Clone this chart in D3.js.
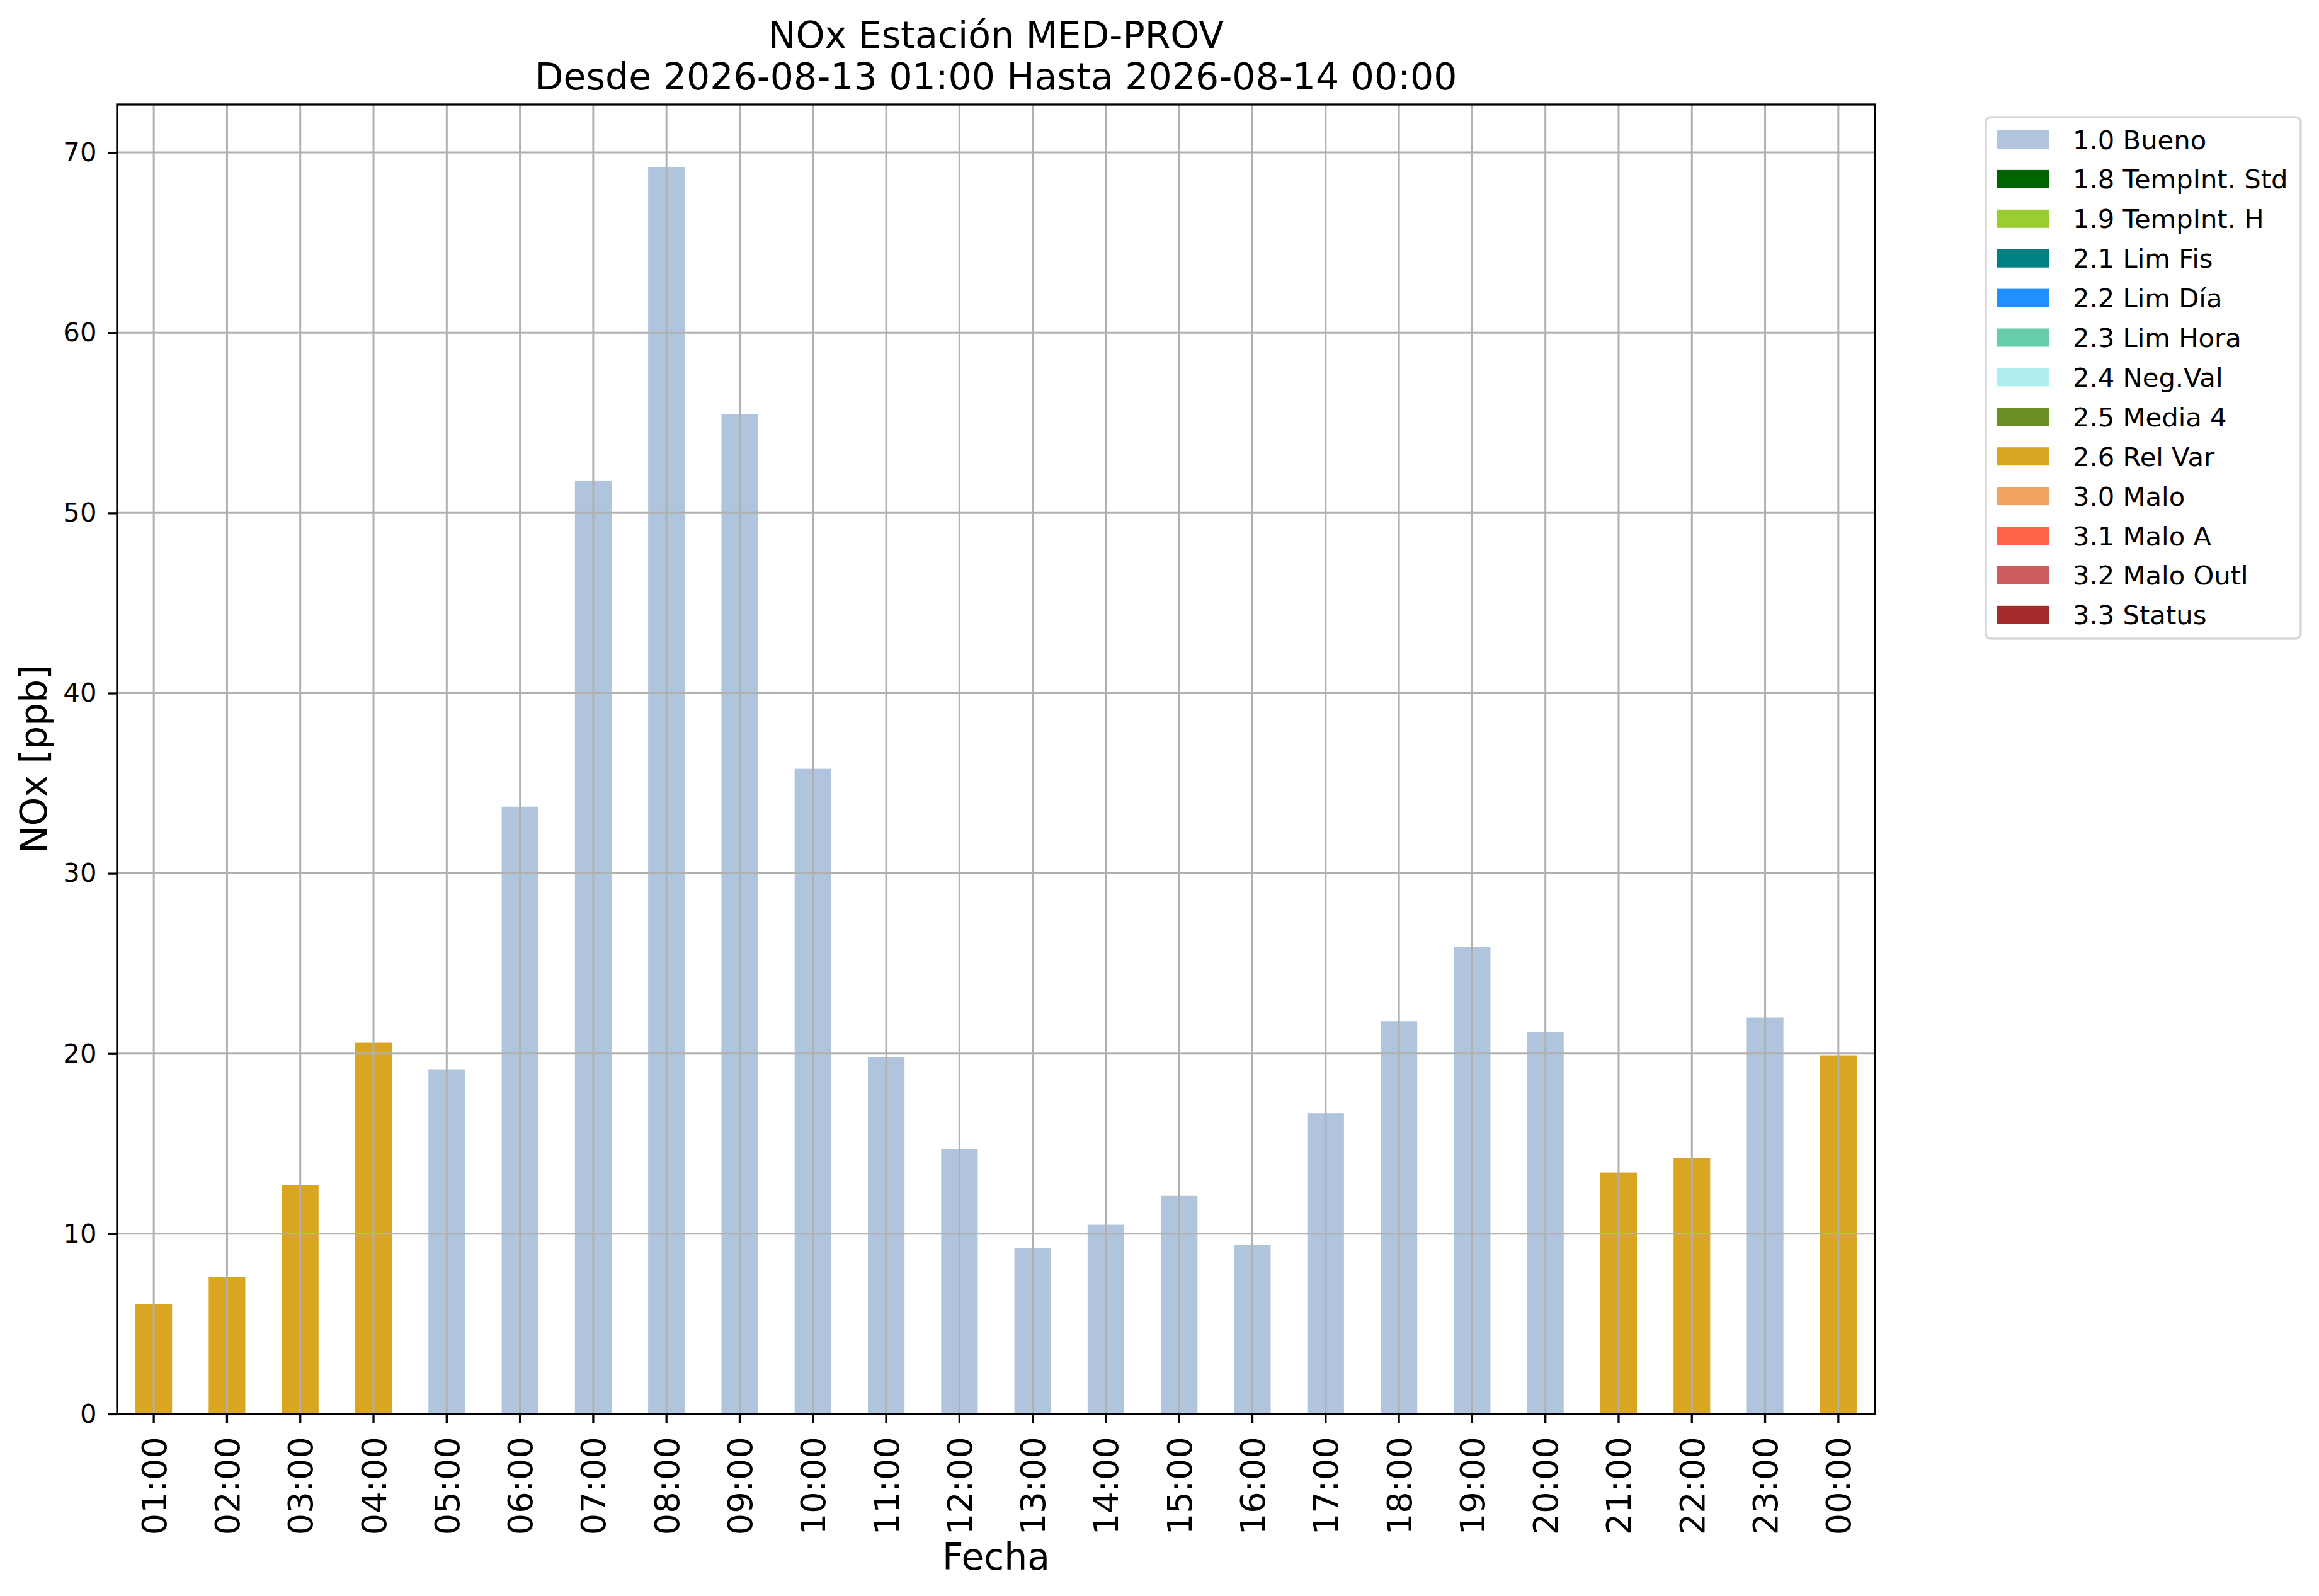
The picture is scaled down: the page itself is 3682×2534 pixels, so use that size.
<!DOCTYPE html>
<html>

<head>
    <meta charset="utf-8">
    <title>NOx Estación MED-PROV</title>
    <script src="https://d3js.org/d3.v7.min.js" charset="utf-8"></script>
    <style>
        body { margin: 0; background: #ffffff; }
        text { font-family: "DejaVu Sans", sans-serif; }
    </style>
</head>

<body>
    <script>
        // data
        var hours = ["01:00", "02:00", "03:00", "04:00", "05:00", "06:00", "07:00", "08:00",
            "09:00", "10:00", "11:00", "12:00", "13:00", "14:00", "15:00", "16:00",
            "17:00", "18:00", "19:00", "20:00", "21:00", "22:00", "23:00", "00:00"];
        var nox = [6.1, 7.6, 12.7, 20.6, 19.1, 33.7, 51.8, 69.2,
            55.5, 35.8, 19.8, 14.7, 9.2, 10.5, 12.1, 9.4,
            16.7, 21.8, 25.9, 21.2, 13.4, 14.2, 22.0, 19.9];
        var flags = ["2.6 Rel Var", "2.6 Rel Var", "2.6 Rel Var", "2.6 Rel Var",
            "1.0 Bueno", "1.0 Bueno", "1.0 Bueno", "1.0 Bueno",
            "1.0 Bueno", "1.0 Bueno", "1.0 Bueno", "1.0 Bueno",
            "1.0 Bueno", "1.0 Bueno", "1.0 Bueno", "1.0 Bueno",
            "1.0 Bueno", "1.0 Bueno", "1.0 Bueno", "1.0 Bueno",
            "2.6 Rel Var", "2.6 Rel Var", "1.0 Bueno", "2.6 Rel Var"];

        var legendLabels = ["1.0 Bueno", "1.8 TempInt. Std", "1.9 TempInt. H", "2.1 Lim Fis",
            "2.2 Lim Día", "2.3 Lim Hora", "2.4 Neg.Val", "2.5 Media 4", "2.6 Rel Var",
            "3.0 Malo", "3.1 Malo A", "3.2 Malo Outl", "3.3 Status"];
        var legendColors = ["#b0c4de", "#006400", "#9acd32", "#008080",
            "#1e90ff", "#66cdaa", "#afeeee", "#6b8e23", "#daa520",
            "#f4a460", "#ff6347", "#cd5c5c", "#a52a2a"];

        var yTicks = [0, 10, 20, 30, 40, 50, 60, 70];

        var titleLines = ["NOx Estación MED-PROV", "Desde 2026-08-13 01:00 Hasta 2026-08-14 00:00"];

        // layout
        var width = 3682, height = 2534;
        var plot = { left: 186, right: 2977, top: 166, bottom: 2245 };
        var cx = (plot.left + plot.right) / 2;
        var small = 41.7, mid = 54.2, big = 58.3;

        var dataset = hours.map(function (h, i) {
            return { hour: h, value: nox[i], flag: flags[i] };
        });

        var color = d3.scaleOrdinal().domain(legendLabels).range(legendColors);

        var x = d3.scaleBand()
            .domain(hours)
            .range([plot.left, plot.right])
            .paddingInner(0.5)
            .paddingOuter(0.25);

        var y = d3.scaleLinear()
            .domain([0, d3.max(nox) * 1.05])
            .range([plot.bottom, plot.top]);

        var svg = d3.select("body").append("svg")
            .attr("width", width)
            .attr("height", height);

        // bars
        svg.append("g")
            .selectAll("rect")
            .data(dataset)
            .enter()
            .append("rect")
            .attr("x", function (d) { return x(d.hour); })
            .attr("width", x.bandwidth())
            .attr("y", function (d) { return y(d.value); })
            .attr("height", function (d) { return y(0) - y(d.value); })
            .attr("fill", function (d) { return color(d.flag); });

        // grid, drawn over the bars
        var grid = svg.append("g").attr("stroke", "#b0b0b0").attr("stroke-width", 3);
        grid.selectAll("line.v")
            .data(hours)
            .enter()
            .append("line")
            .attr("class", "v")
            .attr("x1", function (d) { return x(d) + x.bandwidth() / 2; })
            .attr("x2", function (d) { return x(d) + x.bandwidth() / 2; })
            .attr("y1", plot.top)
            .attr("y2", plot.bottom);
        grid.selectAll("line.h")
            .data(yTicks)
            .enter()
            .append("line")
            .attr("class", "h")
            .attr("x1", plot.left)
            .attr("x2", plot.right)
            .attr("y1", function (d) { return y(d); })
            .attr("y2", function (d) { return y(d); });

        // y axis
        var yAxis = svg.append("g")
            .attr("transform", "translate(" + plot.left + ",0)")
            .call(d3.axisLeft(y).tickValues(yTicks).tickSize(14.6).tickPadding(18));
        yAxis.select(".domain").remove();
        yAxis.selectAll(".tick line").attr("stroke", "#000").attr("stroke-width", 3.3);
        yAxis.selectAll(".tick text")
            .attr("fill", "#000")
            .style("font-size", small + "px")
            .style("font-family", "DejaVu Sans");

        // x axis
        var xAxis = svg.append("g")
            .attr("transform", "translate(0," + plot.bottom + ")")
            .call(d3.axisBottom(x).tickSize(14.6));
        xAxis.select(".domain").remove();
        xAxis.selectAll(".tick line").attr("stroke", "#000").attr("stroke-width", 3.3);
        xAxis.selectAll(".tick text")
            .attr("fill", "#000")
            .attr("transform", "rotate(-90)")
            .attr("x", -36)
            .attr("y", 0)
            .attr("dy", "0.36em")
            .style("text-anchor", "end")
            .style("font-size", mid + "px")
            .style("font-family", "DejaVu Sans");

        // frame
        svg.append("rect")
            .attr("x", plot.left)
            .attr("y", plot.top)
            .attr("width", plot.right - plot.left)
            .attr("height", plot.bottom - plot.top)
            .attr("fill", "none")
            .attr("stroke", "#000")
            .attr("stroke-width", 3.3);

        // titles and labels
        svg.selectAll("text.title")
            .data(titleLines)
            .enter()
            .append("text")
            .attr("class", "title")
            .attr("x", cx)
            .attr("y", function (d, i) { return 76 + i * 66; })
            .attr("text-anchor", "middle")
            .style("font-size", "58.5px")
            .text(function (d) { return d; });

        svg.append("text")
            .attr("x", cx)
            .attr("y", 2492)
            .attr("text-anchor", "middle")
            .style("font-size", big + "px")
            .text("Fecha");

        svg.append("text")
            .attr("transform", "translate(74," + ((plot.top + plot.bottom) / 2) + ") rotate(-90)")
            .attr("text-anchor", "middle")
            .style("font-size", big + "px")
            .text("NOx [ppb]");

        // legend
        var leg = svg.append("g").attr("transform", "translate(3153,186)");
        leg.append("rect")
            .attr("width", 500)
            .attr("height", 828)
            .attr("rx", 8)
            .attr("fill", "#ffffff")
            .attr("fill-opacity", 0.8)
            .attr("stroke", "#d6d6d6")
            .attr("stroke-width", 3.5);

        var rows = leg.selectAll("g.row")
            .data(legendLabels)
            .enter()
            .append("g")
            .attr("class", "row")
            .attr("transform", function (d, i) { return "translate(0," + (35.5 + i * 62.9) + ")"; });
        rows.append("rect")
            .attr("x", 18)
            .attr("y", -14.5)
            .attr("width", 83)
            .attr("height", 29)
            .attr("fill", function (d) { return color(d); });
        rows.append("text")
            .attr("x", 138)
            .attr("y", 15)
            .style("font-size", small + "px")
            .text(function (d) { return d; });
    </script>
</body>

</html>
